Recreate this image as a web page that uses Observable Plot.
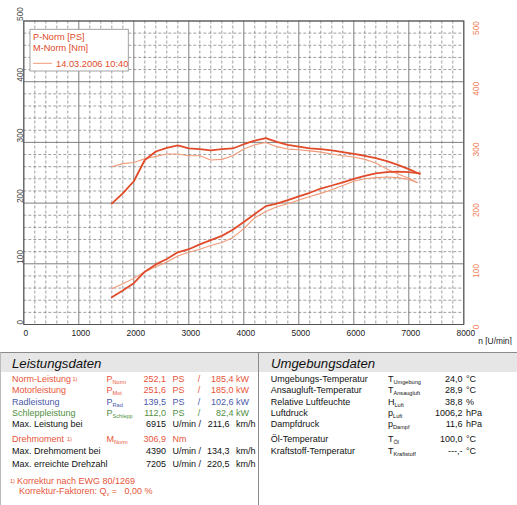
<!DOCTYPE html>
<html>
<head>
<meta charset="utf-8">
<script src="https://cdn.jsdelivr.net/npm/d3@7"></script>
<script src="https://cdn.jsdelivr.net/npm/@observablehq/plot@0.6"></script>
<style>
  html, body { margin: 0; padding: 0; background: #fff; }
  #wrap { position: relative; width: 517px; height: 505px; font-family: "Liberation Sans", Arial, sans-serif; overflow: hidden; }
  #wrap svg { position: absolute; left: 0; top: 0; }
</style>
</head>
<body>
<div id="wrap"></div>
<script>
// ---------- data ----------
const xTicks = [0, 1000, 2000, 3000, 4000, 5000, 6000, 7000, 8000];
const yTicks = [0, 100, 200, 300, 400, 500];

const rpmNow = [1600,1800,2000,2200,2400,2600,2800,3000,3200,3400,3600,3800,4000,4200,4400,4600,4800,5000,5200,5400,5600,5800,6000,6200,6400,6600,6800,7000,7200];
const powerNow = [45,56,68,87,99,108,119,124,132,139,146,156,169,182,195,199,205,211,217,224,229,234,240,245,249,251,252,251,249];
const torqueNow = [199,216,236,271,285,291,295,290,289,287,289,290,297,303,307,301,296,293,290,289,287,284,281,278,274,269,263,256,248];

const rpmRef = [1600,1800,2000,2200,2400,2600,2800,3000,3200,3400,3600,3800,4000,4200,4400,4600,4800,5000,5200,5400,5600,5800,6000,6200,6400,6600,6800,7000,7150];
const powerRef = [59,67,76,87,95,103,113,119,124,130,135,143,158,176,186,194,199,205,211,216,222,229,236,240,242,243,242,239,234];
const torqueRef = [260,265,267,273,277,281,281,278,278,271,272,278,289,296,300,293,289,288,286,284,281,278,276,272,266,256,248,241,234];

const legendLabels = ["P-Norm [PS]", "M-Norm [Nm]", "14.03.2006 10:40"];
const xLabel = "n [U/min]";

// left table
const perfTitle = "Leistungsdaten";
const perfLabels = ["Norm-Leistung", "Motorleistung", "Radleistung", "Schleppleistung"];
const perfSubs = ["Norm", "Mot", "Rad", "Schlepp"];
const perfPS = ["252,1", "251,6", "139,5", "112,0"];
const perfKW = ["185,4", "185,0", "102,6", "82,4"];
const perfKinds = ["orange", "orange", "blue", "green"];
const maxPowerRow = ["Max. Leistung bei", "6915", "211,6"];
const torqueRow = ["Drehmoment", "Norm", "306,9", "Nm"];
const maxTorqueRow = ["Max. Drehmoment bei", "4390", "134,3"];
const maxRpmRow = ["Max. erreichte Drehzahl", "7205", "220,5"];
const footnote1 = "Korrektur nach EWG 80/1269";
const footnote2 = ["Korrektur-Faktoren: Q", "v", " =   0,00 %"];

// right table
const envTitle = "Umgebungsdaten";
const envLabels = ["Umgebungs-Temperatur", "Ansaugluft-Temperatur", "Relative Luftfeuchte", "Luftdruck", "Dampfdruck", "Öl-Temperatur", "Kraftstoff-Temperatur"];
const envSym = ["T", "T", "H", "p", "p", "T", "T"];
const envSubs = ["Umgebung", "Ansaugluft", "Luft", "Luft", "Dampf", "Öl", "Kraftstoff"];
const envValues = ["24,0", "28,9", "38,8", "1006,2", "11,6", "100,0", "---,-"];
const envUnits = ["°C", "°C", "%", "hPa", "hPa", "°C", "°C"];

// ---------- chart ----------
const ORANGE = "#e14b29";
const THIN = "#f29a78";
const rows = (xs, ys) => xs.map((x, i) => ({x, y: ys[i]}));

const minorX = d3.range(0, 8001, 200).filter(v => v % 1000 !== 0);
const minorY = d3.range(0, 501, 20).filter(v => v % 100 !== 0);

const chart = Plot.plot({
  width: 517,
  height: 345,
  marginLeft: 23.3,
  marginRight: 53.7,
  marginTop: 20.5,
  marginBottom: 21,
  x: {domain: [0, 8000], axis: null},
  y: {domain: [0, 500], axis: null},
  style: {fontFamily: "Liberation Sans, Arial, sans-serif", background: "white"},
  marks: [
    Plot.ruleX(minorX, {stroke: "#808080", strokeWidth: 0.75, strokeDasharray: "3,2"}),
    Plot.ruleY(minorY, {stroke: "#808080", strokeWidth: 0.75, strokeDasharray: "3,2"}),
    Plot.ruleX(xTicks, {stroke: "#707070", strokeWidth: 0.9}),
    Plot.ruleY(yTicks, {stroke: "#707070", strokeWidth: 0.9}),
    Plot.frame({stroke: "#555", strokeWidth: 1}),
    Plot.line(rows(rpmRef, powerRef), {x: "x", y: "y", stroke: THIN, strokeWidth: 1.1}),
    Plot.line(rows(rpmRef, torqueRef), {x: "x", y: "y", stroke: THIN, strokeWidth: 1.1}),
    Plot.line(rows(rpmNow, powerNow), {x: "x", y: "y", stroke: ORANGE, strokeWidth: 1.8}),
    Plot.line(rows(rpmNow, torqueNow), {x: "x", y: "y", stroke: ORANGE, strokeWidth: 1.8}),
    Plot.text(xTicks, {x: d => d, frameAnchor: "bottom", dy: 11, dx: 2, text: d => String(d), fontSize: 8.4, fill: "#222"}),
    Plot.text([xLabel], {frameAnchor: "bottom-right", dx: 48, dy: 19, textAnchor: "end", fontSize: 8.4, fill: "#222"}),
    Plot.text(yTicks, {y: d => d, frameAnchor: "left", dx: -4, rotate: -90, text: d => String(d), fontSize: 8.4, fill: "#444"}),
    Plot.text(yTicks, {y: d => d, frameAnchor: "right", dx: 12.5, rotate: -90, text: d => String(d), fontSize: 8.4, fill: "#f07c52"})
  ]
});
document.getElementById("wrap").appendChild(chart);

// ---------- overlay: legend and tables ----------
const svg = d3.select("#wrap").append("svg")
  .attr("width", 517).attr("height", 505)
  .style("pointer-events", "none")
  .attr("font-family", "Liberation Sans, Arial, sans-serif");

// legend box
const lg = svg.append("g");
lg.append("rect").attr("x", 30).attr("y", 29.3).attr("width", 98.3).attr("height", 41.7)
  .attr("fill", "white").attr("stroke", "#999").attr("stroke-width", 0.9);
lg.append("text").attr("x", 33).attr("y", 39.6).attr("font-size", 9.2).attr("fill", ORANGE).text(legendLabels[0]);
lg.append("text").attr("x", 33).attr("y", 50.6).attr("font-size", 9.2).attr("fill", ORANGE).text(legendLabels[1]);
lg.append("line").attr("x1", 33).attr("x2", 52).attr("y1", 63.3).attr("y2", 63.3).attr("stroke", THIN).attr("stroke-width", 1);
lg.append("text").attr("x", 56).attr("y", 66.6).attr("font-size", 9.3).attr("fill", ORANGE).text(legendLabels[2]);

// table frame
svg.append("rect").attr("x", 0).attr("y", 352.5).attr("width", 517).attr("height", 19.5).attr("fill", "#e6e6e6");
svg.append("line").attr("x1", 0).attr("x2", 517).attr("y1", 352.5).attr("y2", 352.5).attr("stroke", "#8a8a8a").attr("stroke-width", 1);
svg.append("line").attr("x1", 258.5).attr("x2", 258.5).attr("y1", 352.5).attr("y2", 505).attr("stroke", "#8a8a8a").attr("stroke-width", 1);
svg.append("line").attr("x1", 0.5).attr("x2", 0.5).attr("y1", 352.5).attr("y2", 505).attr("stroke", "#bbb").attr("stroke-width", 1);

svg.append("text").attr("x", 12).attr("y", 367.5).attr("font-size", 13.2).attr("font-style", "italic").attr("fill", "#111").text(perfTitle);
svg.append("text").attr("x", 271).attr("y", 367.5).attr("font-size", 13.2).attr("font-style", "italic").attr("fill", "#111").text(envTitle);

const colors = {orange: "#e8553a", blue: "#4a59a8", green: "#4f8f3f", black: "#111"};
const FS = 9;

function txt(x, y, s, fill, anchor) {
  return svg.append("text").attr("x", x).attr("y", y).attr("font-size", FS)
    .attr("fill", fill).attr("text-anchor", anchor || "start").text(s);
}
function sym(x, y, main, sub, fill) {
  const t = svg.append("text").attr("x", x).attr("y", y).attr("font-size", FS).attr("fill", fill);
  t.append("tspan").text(main);
  t.append("tspan").attr("font-size", 5.6).attr("dy", 2).text(sub);
  return t;
}
function footMark(x, y, fill) {
  svg.append("text").attr("x", x).attr("y", y - 1.5).attr("font-size", 5.6).attr("fill", fill).text("1)");
}

// left table rows
const perfBase = [382.3, 393.3, 404.6, 415.6];
perfLabels.forEach((lab, i) => {
  const c = colors[perfKinds[i]];
  const y = perfBase[i];
  txt(12, y, lab, c);
  sym(106.5, y, "P", perfSubs[i], c);
  txt(166, y, perfPS[i], c, "end");
  txt(172.5, y, "PS", c);
  txt(199, y, "/", c, "middle");
  txt(233.5, y, perfKW[i], c, "end");
  txt(236, y, "kW", c);
});
footMark(72.5, perfBase[0], colors.orange);

function rpmRow(row, y) {
  txt(12, y, row[0], colors.black);
  txt(166, y, row[1], colors.black, "end");
  txt(172.5, y, "U/min /", colors.black);
  txt(229.5, y, row[2], colors.black, "end");
  txt(236, y, "km/h", colors.black);
}
rpmRow(maxPowerRow, 427);

txt(12, 442.2, torqueRow[0], colors.orange);
footMark(67, 442.2, colors.orange);
sym(106.5, 442.2, "M", torqueRow[1], colors.orange);
txt(166, 442.2, torqueRow[2], colors.orange, "end");
txt(172.5, 442.2, torqueRow[3], colors.orange);

rpmRow(maxTorqueRow, 453.5);
rpmRow(maxRpmRow, 467.3);

footMark(10, 484, colors.orange);
txt(17, 484, footnote1, colors.orange);
sym(19, 494.3, footnote2[0], footnote2[1], colors.orange).append("tspan").attr("dy", -2).attr("font-size", FS).text(footnote2[2]).attr("xml:space", "preserve");

// right table rows
const envBase = [382.3, 393.3, 404.6, 415.6, 427, 442.2, 453.5];
envLabels.forEach((lab, i) => {
  const y = envBase[i];
  txt(270.7, y, lab, colors.black);
  sym(388, y, envSym[i], envSubs[i], colors.black);
  txt(462.5, y, envValues[i], colors.black, "end");
  txt(466, y, envUnits[i], colors.black);
});
</script>
</body>
</html>
